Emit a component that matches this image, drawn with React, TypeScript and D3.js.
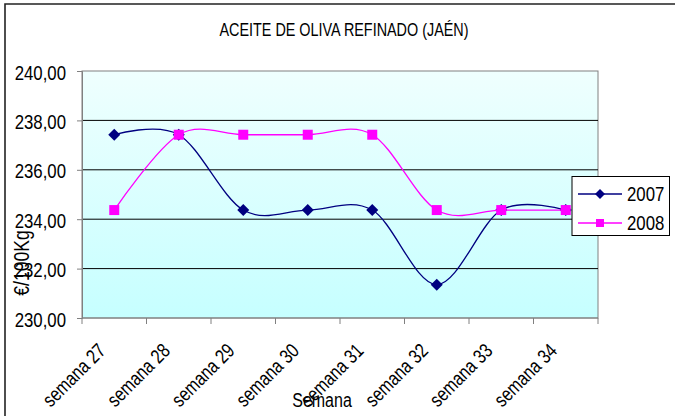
import { useEffect, useRef } from "react";
import * as d3 from "d3";

const weeks = ["semana 27", "semana 28", "semana 29", "semana 30", "semana 31", "semana 32", "semana 33", "semana 34"];
const values2007 = [237.42, 237.42, 234.37, 234.37, 234.37, 231.35, 234.37, 234.37];
const values2008 = [234.37, 237.42, 237.42, 237.42, 237.42, 234.37, 234.37, 234.37];
const yTicks = [230, 232, 234, 236, 238, 240];

// Arial Narrow is not available, so Liberation Sans squeezed horizontally
const FONT = "'Liberation Sans', Arial, sans-serif";
const NARROW = 0.8;

type Sel = d3.Selection<SVGGElement, unknown, null, undefined> | d3.Selection<SVGSVGElement, unknown, null, undefined>;

function narrowText(
  parent: Sel,
  x: number,
  y: number,
  text: string,
  size: number,
  anchor = "start",
  rotate = 0
) {
  return (parent as any)
    .append("text")
    .attr("transform", `translate(${x},${y}) rotate(${rotate}) scale(${NARROW},1)`)
    .attr("text-anchor", anchor)
    .attr("font-family", FONT)
    .attr("font-size", size)
    .attr("fill", "#000")
    .text(text);
}

const diamond = (r: number) => `M0,${-r}L${r},0L0,${r}L${-r},0Z`;
const square = (r: number) => `M${-r},${-r}H${r}V${r}H${-r}Z`;

export default function App() {
  const svgRef = useRef<SVGSVGElement | null>(null);

  useEffect(() => {
    document.body.style.margin = "0";
    if (!svgRef.current) return;

    const width = 675;
    const height = 416;
    const margin = { top: 71, right: 77, bottom: 98, left: 82 };

    const svg = d3.select(svgRef.current);
    svg.selectAll("*").remove();

    const x = d3
      .scaleBand<string>()
      .domain(weeks)
      .range([margin.left, width - margin.right]);
    const cx = (i: number) => (x(weeks[i]) as number) + x.bandwidth() / 2;

    const y = d3
      .scaleLinear()
      .domain([230, 240])
      .range([height - margin.bottom, margin.top]);

    // background + outer frame
    svg.append("rect").attr("width", width).attr("height", height).attr("fill", "#fff");
    svg
      .append("path")
      .attr("d", `M5,${height}V4H${width}`)
      .attr("fill", "none")
      .attr("stroke", "#222")
      .attr("stroke-width", 1.6);

    const grad = svg
      .append("defs")
      .append("linearGradient")
      .attr("id", "bg")
      .attr("x1", 0)
      .attr("y1", 0)
      .attr("x2", 0)
      .attr("y2", 1);
    grad.append("stop").attr("offset", "0%").attr("stop-color", "#effffe");
    grad.append("stop").attr("offset", "100%").attr("stop-color", "#c6ffff");

    svg
      .append("rect")
      .attr("x", margin.left)
      .attr("y", margin.top)
      .attr("width", width - margin.left - margin.right)
      .attr("height", height - margin.top - margin.bottom)
      .attr("fill", "url(#bg)")
      .attr("stroke", "#808080");

    // gridlines
    svg
      .append("g")
      .selectAll("line")
      .data(yTicks.filter((t) => t > 230 && t < 240))
      .join("line")
      .attr("x1", margin.left)
      .attr("x2", width - margin.right)
      .attr("y1", (d) => y(d))
      .attr("y2", (d) => y(d))
      .attr("stroke", "#000");

    // y axis
    const yAxis = svg
      .append("g")
      .attr("transform", `translate(${margin.left},0)`)
      .call(d3.axisLeft(y).tickValues(yTicks).tickSize(5).tickFormat(() => ""));
    yAxis.select(".domain").attr("stroke", "#808080");
    yAxis.selectAll(".tick line").attr("stroke", "#808080");
    const yLabels = svg.append("g");
    yTicks.forEach((t) => {
      narrowText(yLabels, 66, y(t) + 8.5, d3.format(".2f")(t).replace(".", ","), 21, "end");
    });

    // x axis
    const xAxis = svg
      .append("g")
      .attr("transform", `translate(0,${height - margin.bottom})`);
    xAxis
      .append("line")
      .attr("x1", margin.left)
      .attr("x2", width - margin.right)
      .attr("stroke", "#808080");
    xAxis
      .selectAll("line.tk")
      .data(d3.range(weeks.length + 1))
      .join("line")
      .attr("class", "tk")
      .attr("x1", (i) => margin.left + i * x.step())
      .attr("x2", (i) => margin.left + i * x.step())
      .attr("y1", 0)
      .attr("y2", 6)
      .attr("stroke", "#808080");
    const xLabels = svg.append("g");
    weeks.forEach((w, i) => {
      narrowText(xLabels, cx(i) - 7.5, 352, w, 20, "end", -45);
    });

    // series
    const series = [
      { name: "2007", values: values2007, color: "#000080", marker: diamond(6), legendMarker: diamond(5) },
      { name: "2008", values: values2008, color: "#ff00ff", marker: square(5), legendMarker: square(4) },
    ];

    const line = d3
      .line<number>()
      .x((_, i) => cx(i))
      .y((d) => y(d))
      .curve(d3.curveCardinal.tension(0));

    series.forEach((s) => {
      svg
        .append("path")
        .attr("d", line(s.values))
        .attr("fill", "none")
        .attr("stroke", s.color)
        .attr("stroke-width", 1.3);
      svg
        .append("g")
        .selectAll("path")
        .data(s.values)
        .join("path")
        .attr("transform", (d, i) => `translate(${cx(i)},${y(d)})`)
        .attr("d", s.marker)
        .attr("fill", s.color);
    });

    // legend
    const legend = svg.append("g").attr("transform", "translate(572,176)");
    legend
      .append("rect")
      .attr("x", 0)
      .attr("y", 0.5)
      .attr("width", 97.5)
      .attr("height", 59)
      .attr("fill", "#fff")
      .attr("stroke", "#000");
    series.forEach((s, i) => {
      const row = legend.append("g").attr("transform", `translate(0,${18 + i * 29})`);
      row
        .append("line")
        .attr("x1", 6)
        .attr("x2", 50)
        .attr("stroke", s.color)
        .attr("stroke-width", 1.3);
      row
        .append("path")
        .attr("transform", "translate(28,0)")
        .attr("d", s.legendMarker)
        .attr("fill", s.color);
      narrowText(row, 55, 6.5, s.name, 21);
    });

    // titles
    narrowText(svg, 344, 36, "ACEITE DE OLIVA REFINADO (JAÉN)", 18, "middle");
    narrowText(svg, 322, 406.5, "Semana", 20, "middle");
    narrowText(svg, 29, 263, "€/100Kg", 22, "middle", -90);
  }, []);

  return <svg ref={svgRef} width={675} height={416} style={{ display: "block" }}></svg>;
}
